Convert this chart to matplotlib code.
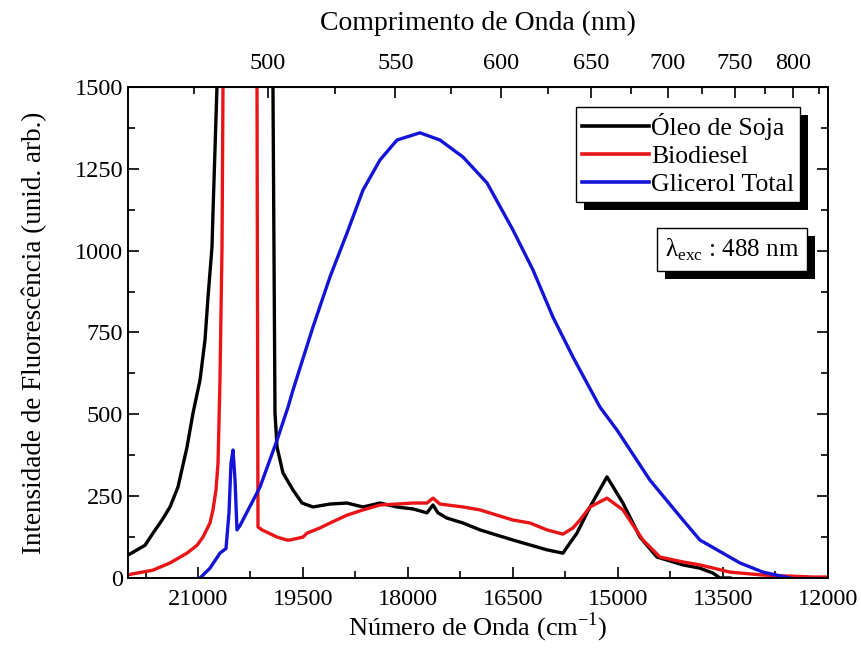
import matplotlib
matplotlib.use("Agg")
import matplotlib.pyplot as plt
from matplotlib.patches import Rectangle
import numpy as np

plt.rcParams['font.family'] = ['Liberation Serif', 'DejaVu Serif']
plt.rcParams['mathtext.fontset'] = 'custom'
plt.rcParams['mathtext.rm'] = 'Liberation Serif'

# numero de onda (cm-1) e intensidade lidos do grafico
# valores acima de 1500 ficam fora da escala (pico do laser)
oleo_x = [22000, 21757, 21643, 21514, 21400, 21286, 21157, 21071, 20971, 20900,
          20857, 20800, 20786, 20729, 20650, 20300, 20000, 19929, 19900, 19871,
          19786, 19643, 19514, 19357, 19114, 18871, 18643, 18400, 18157, 17929,
          17729, 17643, 17571, 17443, 17214, 16971, 16729, 16500, 16257, 16014,
          15786, 15686, 15586, 15400, 15157, 14929, 14686, 14443, 14071, 13829,
          13643, 13543, 13400]
oleo_y = [70, 100, 137, 177, 217, 278, 400, 504, 605, 727,
          858, 1011, 1115, 1500, 2500, 3000, 2500, 1500, 504, 400,
          321, 269, 229, 217, 226, 229, 217, 229, 217, 211,
          199, 223, 199, 183, 168, 147, 131, 116, 101, 86,
          76, 107, 137, 217, 309, 229, 125, 64, 40, 30,
          15, 0, 0]

bio_x = [22000, 21643, 21400, 21157, 21014, 20929, 20829, 20786, 20743, 20714,
         20686, 20657, 20643, 20500, 20250, 20157, 20143, 20086, 19871, 19729,
         19686, 19500, 19443, 19257, 19114, 18871, 18643, 18400, 18157, 17929,
         17729, 17643, 17543, 17214, 16971, 16729, 16500, 16257, 16014, 15786,
         15643, 15543, 15400, 15157, 14929, 14643, 14400, 14071, 13829, 13400,
         12929, 12214, 12000]
bio_y = [10, 24, 46, 76, 100, 125, 168, 208, 269, 351,
         605, 1011, 1500, 3000, 3000, 1500, 156, 147, 125, 116,
         116, 125, 137, 153, 168, 192, 208, 223, 226, 229,
         229, 244, 226, 217, 208, 192, 177, 168, 147, 134,
         153, 177, 217, 244, 208, 116, 64, 49, 40, 18,
         9, 3, 3]

glic_x = [20971, 20829, 20686, 20600, 20557, 20529, 20500, 20471, 20443, 20400,
          20114, 19871, 19714, 19643, 19357, 19114, 18871, 18643, 18400, 18157,
          17829, 17543, 17214, 16871, 16500, 16214, 15929, 15643, 15257, 15014,
          14543, 14071, 13829, 13257, 12929, 12543]
glic_y = [0, 30, 76, 90, 200, 350, 391, 300, 147, 160,
          278, 421, 522, 574, 767, 920, 1054, 1185, 1277, 1338,
          1360, 1338, 1286, 1207, 1063, 941, 797, 675, 522, 452,
          299, 177, 116, 46, 18, 0]

y_ticks = [0, 250, 500, 750, 1000, 1250, 1500]
x_ticks = [21000, 19500, 18000, 16500, 15000, 13500, 12000]
nm_ticks = [500, 550, 600, 650, 700, 750, 800]
nm_minor = [475, 525, 575, 625, 675, 725, 775, 825]


def inv(x):
    x = np.asarray(x, dtype=float)
    with np.errstate(divide='ignore'):
        return 1e7 / x


fig = plt.figure(figsize=(8.62, 6.63), dpi=100)
ax = fig.add_axes([0.1485, 0.1282, 0.812, 0.7406])

ax.plot(oleo_x, oleo_y, color='black', lw=2.4, label='Óleo de Soja')
ax.plot(bio_x, bio_y, color='#e81418', lw=2.4, label='Biodiesel')
ax.plot(glic_x, glic_y, color='#1414d8', lw=2.4, label='Glicerol Total')

ax.set_xlim(22000, 12000)
ax.set_ylim(0, 1500)
ax.set_xticks(x_ticks)
ax.set_xticks([21750, 20250, 18750, 17250, 15750, 14250, 12750], minor=True)
ax.set_yticks(y_ticks)
ax.set_yticks([125, 375, 625, 875, 1125, 1375], minor=True)
ax.tick_params(which='both', direction='in', top=False, right=True, labelsize=17.5, width=1.2)
ax.tick_params(which='major', length=8)
ax.tick_params(which='minor', length=5)
ax.tick_params(axis='x', pad=8)
for s in ax.spines.values():
    s.set_linewidth(1.4)

ax.set_xlabel('Número de Onda (cm$^{-1}$)', fontsize=19, labelpad=0)
ax.set_ylabel('Intensidade de Fluorescência (unid. arb.)', fontsize=19.5, labelpad=20)

top = ax.secondary_xaxis('top', functions=(inv, inv))
top.set_xticks(nm_ticks)
top.set_xticks(nm_minor, minor=True)
top.tick_params(which='both', direction='in', labelsize=17.5, width=1.2, pad=9)
top.tick_params(which='major', length=8)
top.tick_params(which='minor', length=5)
top.set_xlabel('Comprimento de Onda (nm)', fontsize=20, labelpad=17)

leg = ax.legend(loc='upper right', bbox_to_anchor=(0.96, 0.959), borderaxespad=0,
                fancybox=False, edgecolor='black', framealpha=1, fontsize=18.5,
                handlelength=2.6, handletextpad=0.1, labelspacing=0.2,
                borderpad=0.22)
leg.get_frame().set_linewidth(1.0)
for h in leg.get_lines():
    h.set_linewidth(2.6)
leg.set_zorder(6)

txt = ax.text(0.863, 0.669, 'λ$_{\\mathrm{exc}}$ : 488 nm', transform=ax.transAxes,
              fontsize=18, ha='center', va='center', zorder=6,
              bbox=dict(boxstyle='square,pad=0.33', fc='white', ec='black', lw=1.0))

# sombras pretas das caixas
fig.canvas.draw()
inv_fig = fig.transFigure.inverted()
for bb in [leg.get_frame().get_window_extent(), txt.get_bbox_patch().get_window_extent()]:
    (x0, y0), (x1, y1) = inv_fig.transform([[bb.x0 + 8, bb.y0 - 8], [bb.x1 + 8, bb.y1 - 8]])
    fig.patches.append(Rectangle((x0, y0), x1 - x0, y1 - y0, transform=fig.transFigure,
                                 facecolor='black', edgecolor='none', zorder=0))

ax.set_zorder(1)
ax.patch.set_alpha(0)
fig.savefig('out.png', dpi=100)
